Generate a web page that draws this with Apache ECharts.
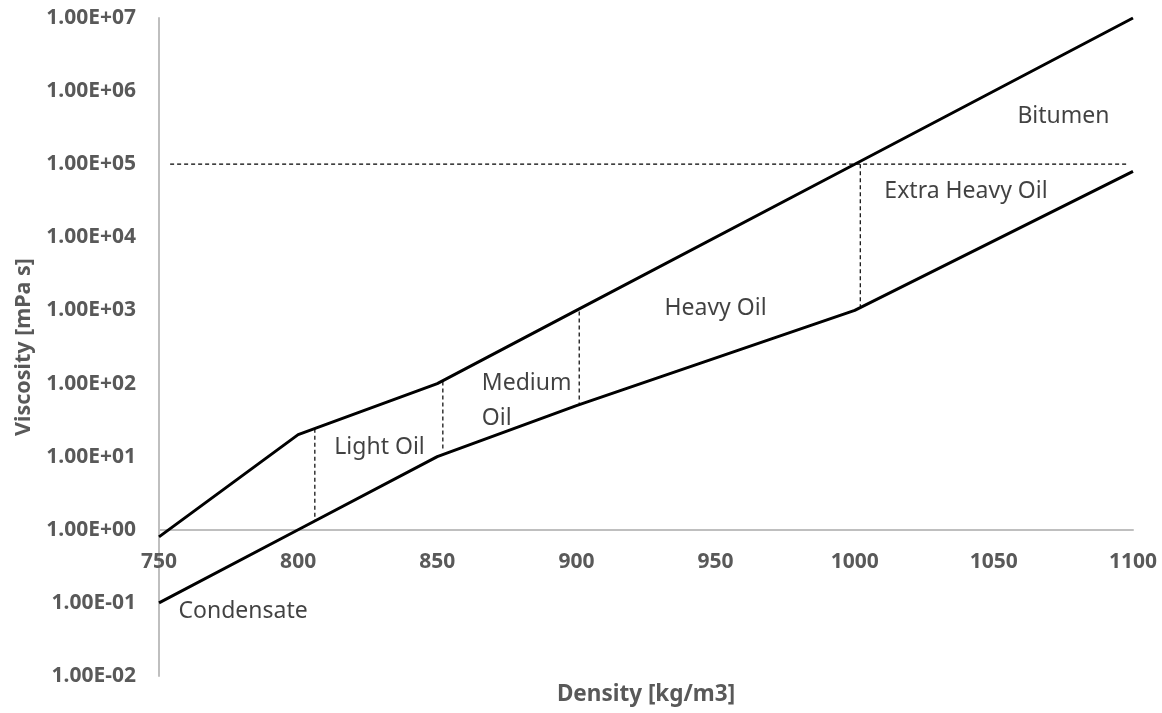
<!DOCTYPE html>
<html>
<head>
<meta charset="utf-8">
<title>Oil classification by density and viscosity</title>
<script src="https://cdn.jsdelivr.net/npm/echarts@6/dist/echarts.min.js"></script>
<style>
  html, body { margin: 0; padding: 0; background: #ffffff; }
  #chart { width: 1162px; height: 713px; }
</style>
</head>
<body>
<div id="chart"></div>
<script>
// Boundary curves: density [kg/m3] vs viscosity [mPa s]
const upperDensity = [750, 800, 850, 900, 1000, 1100];
const upperViscosity = [0.8, 20, 100, 1000, 100000, 10000000];
const lowerDensity = [750, 800, 850, 900, 1000, 1100];
const lowerViscosity = [0.1, 1, 10, 50, 1000, 80000];

// Dashed class separators: [density, viscosity] pairs
const sepLightMedium = [[806, 24], [806, 1.35]];
const sepLightMediumB = [[852, 107], [852, 12.4]];
const sepMediumHeavy = [[901, 970], [901, 53]];
const sepHeavyExtra = [[1002, 100000], [1002, 1150]];
const sepBitumen = [[754, 100000], [1098, 100000]];

// Class names and where they sit (density, viscosity)
const classNames = ['Bitumen', 'Extra Heavy Oil', 'Heavy Oil', 'Medium\nOil', 'Light Oil', 'Condensate'];
const classAnchorDensity = [1075, 1040, 950, 866, 813, 757];
const classAnchorViscosity = [450000, 42000, 1050, 58, 13.2, 0.0755];
const classAlign = ['center', 'center', 'center', 'left', 'left', 'left'];

// Axis ticks
const xTicks = [750, 800, 850, 900, 950, 1000, 1050, 1100];
const yTickLabels = ['1.00E-02', '1.00E-01', '1.00E+00', '1.00E+01', '1.00E+02',
                     '1.00E+03', '1.00E+04', '1.00E+05', '1.00E+06', '1.00E+07'];

const yMinExp = -2, yMaxExp = 7;
const gridTop = 18, gridBottom = 37;
const chartHeight = 713;
const plotHeight = chartHeight - gridTop - gridBottom;
// The density axis crosses the viscosity axis at 1 mPa s (10^0)
const xAxisOffset = -plotHeight * (0 - yMinExp) / (yMaxExp - yMinExp);

const zip = (xs, ys) => xs.map((x, i) => [x, ys[i]]);

const chart = echarts.init(document.getElementById('chart'), null, { renderer: 'canvas' });

const dashStyle = { color: '#000000', width: 1.2, type: [4, 3] };
const sepSeries = [sepLightMedium, sepLightMediumB, sepMediumHeavy, sepHeavyExtra, sepBitumen].map(d => ({
  type: 'line',
  data: d,
  symbol: 'none',
  lineStyle: dashStyle,
  silent: true,
  z: 2
}));

const labelSeries = classNames.map((name, i) => ({
  type: 'scatter',
  data: [[classAnchorDensity[i], classAnchorViscosity[i]]],
  symbolSize: 0,
  silent: true,
  label: {
    show: true,
    position: 'inside',
    formatter: name,
    color: '#111111',
    fontFamily: 'Noto Sans',
    fontSize: 23,
    lineHeight: 35,
    align: classAlign[i],
    verticalAlign: 'middle'
  },
  z: 5
}));

chart.setOption({
  animation: false,
  backgroundColor: '#ffffff',
  grid: { left: 159, right: 29, top: gridTop, bottom: gridBottom, containLabel: false },
  xAxis: {
    type: 'value',
    min: xTicks[0],
    max: xTicks[xTicks.length - 1],
    interval: 50,
    position: 'bottom',
    offset: xAxisOffset,
    name: 'Density [kg/m3]',
    nameLocation: 'middle',
    nameGap: 153,
    nameTextStyle: { color: '#595959', fontFamily: 'Noto Sans', fontWeight: 'bold', fontSize: 22.5 },
    axisLine: { show: true, onZero: false, lineStyle: { color: '#bfbfbf', width: 2 } },
    axisTick: { show: false },
    splitLine: { show: false },
    axisLabel: {
      color: '#595959', fontFamily: 'Noto Sans', fontWeight: 'bold', fontSize: 21, margin: 22,
      formatter: v => String(v)
    }
  },
  yAxis: {
    type: 'log',
    logBase: 10,
    min: Math.pow(10, yMinExp),
    max: Math.pow(10, yMaxExp),
    name: 'Viscosity [mPa s]',
    nameLocation: 'middle',
    nameGap: 124,
    nameRotate: 90,
    nameTextStyle: { color: '#595959', fontFamily: 'Noto Sans', fontWeight: 'bold', fontSize: 21.5 },
    axisLine: { show: true, onZero: false, lineStyle: { color: '#bfbfbf', width: 2 } },
    axisTick: { show: false },
    splitLine: { show: false },
    axisLabel: {
      color: '#595959', fontFamily: 'Noto Sans', fontWeight: 'bold', fontSize: 21, margin: 23,
      formatter: v => yTickLabels[Math.round(Math.log10(v)) - yMinExp] || ''
    }
  },
  series: [
    {
      type: 'line',
      data: zip(upperDensity, upperViscosity),
      symbol: 'none',
      lineStyle: { color: '#000000', width: 3 },
      z: 3
    },
    {
      type: 'line',
      data: zip(lowerDensity, lowerViscosity),
      symbol: 'none',
      lineStyle: { color: '#000000', width: 3 },
      z: 3
    },
    ...sepSeries,
    ...labelSeries
  ]
});
</script>
</body>
</html>
